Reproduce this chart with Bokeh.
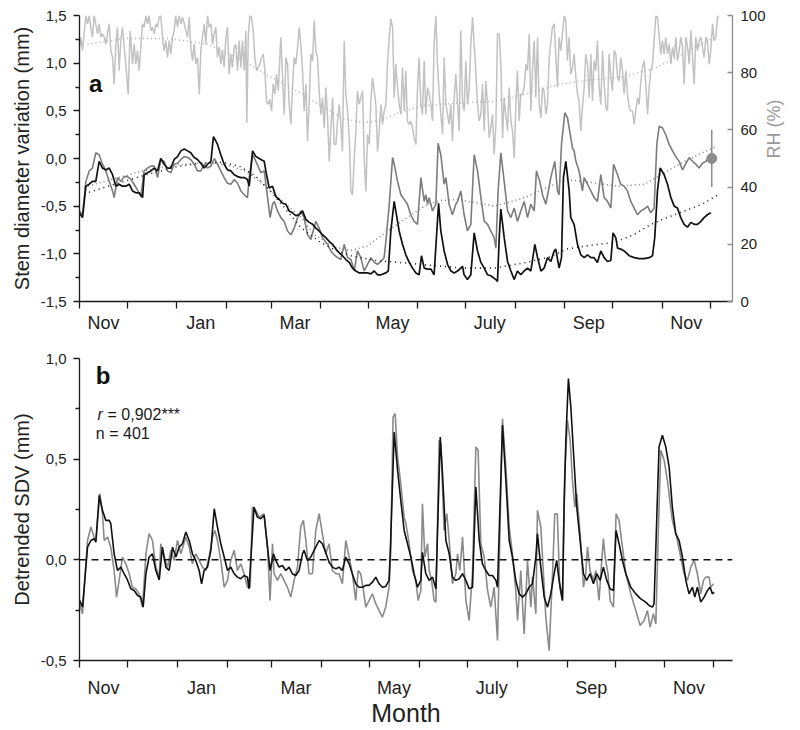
import math
from bokeh.plotting import figure
from bokeh.models import Range1d, LinearAxis, FixedTicker, Span, Label, CustomJSTickFormatter
from bokeh.layouts import column
from bokeh.embed import file_html
from bokeh.resources import INLINE

FONT = "Liberation Sans"
INK = "#1a1a1a"

# ---------------- calendar (days counted from 1 November) ----------------
month_starts = [0, 30, 61, 92, 120, 151, 181, 212, 242, 273, 304, 334, 365, 395]
label_days = [15, 76, 135, 196, 257, 319, 380]
label_names = ["Nov", "Jan", "Mar", "May", "July", "Sep", "Nov"]

sdv_ticks = [-1.5, -1.0, -0.5, 0.0, 0.5, 1.0, 1.5]
sdv_minor = [-1.25, -0.75, -0.25, 0.25, 0.75, 1.25]
rh_ticks = [0, 20, 40, 60, 80, 100]
det_ticks = [-0.5, 0.0, 0.5, 1.0]
det_minor = [-0.25, 0.25, 0.75]

# ---------------- panel a : stem diameter variation (black) ----------------
sdv_day = [0, 1.9, 4.0, 6.1, 8.1, 10.2, 12.3, 14.4, 16.5, 18.6,
           20.7, 22.8, 24.8, 26.9, 29.0, 31.1, 33.2, 35.3, 37.4, 39.5,
           40.5, 42.6, 44.7, 46.8, 48.9, 50.9, 53.0, 55.1, 57.2, 59.3,
           61.4, 63.5, 65.6, 67.7, 69.7, 71.8, 73.9, 76.0, 78.1, 80.2,
           82.3, 83.9, 86.4, 88.5, 90.6, 92.7, 94.8, 96.9, 99.0, 101.1,
           103.2, 105.2, 106.3, 108.4, 110.5, 113.6, 115.7, 116.7, 118.8, 120.9,
           123.0, 125.1, 127.2, 129.3, 131.3, 133.4, 135.5, 137.6, 139.7, 141.8,
           143.9, 146.0, 148.0, 150.1, 152.2, 154.3, 156.4, 158.5, 160.6, 162.7,
           164.7, 166.8, 168.9, 171.0, 173.1, 175.2, 178.3, 180.4, 182.5, 184.6,
           186.7, 188.8, 191.9, 193.4, 195.0, 197.1, 198.1, 200.2, 202.3, 204.4,
           206.5, 208.6, 210.7, 212.7, 214.2, 215.9, 218.0, 220.1, 222.1, 224.9,
           226.3, 228.4, 230.5, 232.6, 234.7, 236.8, 238.8, 239.9, 240.9, 243.0,
           245.1, 247.2, 249.3, 251.4, 253.5, 255.6, 257.6, 260.8, 261.8, 262.9,
           263.9, 266.0, 268.1, 270.2, 272.3, 274.3, 276.4, 278.5, 280.6, 282.7,
           285.2, 286.9, 289.0, 291.0, 293.1, 295.2, 297.3, 298.3, 300.4, 301.9,
           303.1, 304.6, 306.7, 307.7, 309.8, 311.9, 314.0, 316.1, 318.2, 320.3,
           322.3, 324.4, 326.5, 328.6, 330.7, 332.8, 334.2, 335.9, 337.0, 339.0,
           341.1, 344.3, 347.4, 350.5, 353.7, 356.8, 358.9, 360.3, 362.0, 363.7,
           366.2, 368.3, 370.4, 372.5, 374.5, 376.6, 378.7, 380.8, 382.9, 385.0,
           387.1, 389.2, 391.2, 393.3, 395.4]
sdv = [-0.57, -0.62, -0.29, -0.27, -0.24, -0.24, -0.03, -0.10, -0.12, -0.10,
       -0.17, -0.29, -0.27, -0.29, -0.29, -0.27, -0.34, -0.36, -0.36, -0.41,
       -0.17, -0.15, -0.13, -0.10, -0.13, 0.0, -0.06, -0.10, -0.10, -0.01,
       0.02, 0.08, 0.10, 0.08, 0.06, 0.01, -0.01, -0.05, -0.10, -0.06,
       -0.03, 0.23, 0.15, 0.04, -0.06, -0.12, -0.13, -0.17, -0.19, -0.20,
       -0.20, -0.22, -0.29, 0.08, 0.02, -0.01, -0.03, -0.13, -0.31, -0.29,
       -0.40, -0.43, -0.47, -0.48, -0.55, -0.57, -0.60, -0.59, -0.55, -0.64,
       -0.67, -0.69, -0.73, -0.76, -0.80, -0.83, -0.87, -0.90, -0.95, -0.99,
       -1.02, -1.06, -1.09, -1.15, -1.18, -1.20, -1.20, -1.20, -1.21, -1.18,
       -1.22, -1.22, -1.20, -1.18, -0.76, -0.45, -0.55, -0.76, -0.90, -1.01,
       -1.09, -1.15, -1.20, -1.22, -1.02, -1.15, -1.16, -1.16, -1.22, -0.47,
       -0.76, -0.97, -1.11, -1.18, -1.20, -1.18, -1.15, -1.13, -1.22, -1.27,
       -1.22, -0.78, -0.97, -1.09, -1.15, -1.22, -1.23, -1.27, -1.29, -0.83,
       -0.53, -0.83, -1.08, -1.18, -1.27, -1.18, -1.22, -1.18, -1.15, -1.18,
       -0.90, -1.04, -1.18, -1.15, -1.04, -1.08, -0.97, -0.95, -1.15, -1.04,
       -0.20, -0.03, -0.34, -0.62, -0.69, -0.90, -1.01, -1.04, -1.01, -1.04,
       -1.04, -1.09, -0.97, -1.04, -1.08, -1.07, -0.78, -0.83, -0.94, -0.95,
       -0.97, -1.02, -1.04, -1.05, -1.05, -1.04, -1.02, -0.83, -0.34, -0.10,
       -0.17, -0.27, -0.41, -0.50, -0.52, -0.62, -0.69, -0.72, -0.67, -0.69,
       -0.69, -0.66, -0.62, -0.59, -0.57]

# ---------------- panel a : grey series ----------------
grey_day = [0, 1.9, 4.0, 6.1, 8.1, 10.2, 12.3, 14.4, 16.5, 18.6,
            20.7, 21.7, 23.8, 25.9, 28.0, 30.1, 32.2, 34.2, 36.3, 38.4,
            40.5, 42.6, 44.7, 46.8, 48.9, 50.9, 53.0, 55.1, 57.2, 59.3,
            61.4, 63.5, 65.6, 67.7, 69.7, 71.8, 73.9, 76.0, 78.1, 80.2,
            82.3, 84.4, 86.4, 88.5, 90.6, 92.7, 94.8, 96.9, 99.0, 101.1,
            103.2, 105.2, 106.3, 108.4, 110.5, 113.6, 115.7, 117.8, 119.4, 120.9,
            122.0, 124.0, 126.1, 128.2, 130.3, 132.4, 134.5, 136.6, 138.6, 140.7,
            142.8, 144.9, 148.0, 150.1, 152.2, 154.3, 155.4, 157.4, 159.5, 161.6,
            163.7, 165.8, 167.9, 170.0, 172.1, 174.1, 176.2, 178.3, 180.4, 182.5,
            184.6, 186.7, 188.8, 190.8, 191.9, 194.0, 196.1, 197.1, 199.2, 201.3,
            203.4, 205.4, 207.5, 209.6, 211.7, 213.8, 215.9, 216.9, 218.0, 219.0,
            221.1, 223.2, 224.6, 226.3, 228.4, 229.5, 231.5, 233.6, 235.7, 236.8,
            238.8, 240.9, 243.0, 245.1, 247.2, 249.3, 251.4, 253.5, 255.6, 257.6,
            259.7, 260.8, 262.2, 263.9, 266.0, 268.1, 270.2, 272.3, 274.3, 276.4,
            278.5, 280.6, 282.7, 284.8, 286.2, 288.3, 290.0, 292.1, 295.2, 296.2,
            297.7, 299.4, 300.4, 301.9, 304.0, 305.6, 307.7, 308.8, 309.8, 310.9,
            312.9, 315.0, 316.1, 318.2, 320.3, 322.3, 324.4, 326.5, 328.6, 330.7,
            332.8, 334.5, 337.0, 339.0, 341.1, 343.2, 345.3, 347.4, 349.5, 351.6,
            353.7, 355.8, 357.8, 359.9, 361.6, 363.1, 365.2, 367.2, 369.3, 371.4,
            373.5, 375.6, 377.7, 379.8, 381.9, 383.9, 386.0, 388.1, 390.2, 392.3,
            394.4, 395.4]
grey_sdv = [-0.55, -0.59, -0.24, -0.13, -0.10, 0.06, 0.04, -0.06, -0.13, -0.24,
            -0.34, -0.41, -0.20, -0.24, -0.19, -0.19, -0.22, -0.27, -0.33, -0.40,
            -0.13, -0.10, -0.08, -0.08, -0.20, -0.01, -0.03, -0.13, -0.15, -0.06,
            -0.05, -0.01, 0.02, 0.01, -0.01, -0.06, -0.13, -0.13, -0.06, -0.10,
            -0.08, 0.0, -0.06, -0.13, -0.20, -0.26, -0.27, -0.22, -0.26, -0.34,
            -0.38, -0.41, -0.20, 0.04, -0.03, -0.15, -0.13, -0.41, -0.62, -0.48,
            -0.45, -0.55, -0.62, -0.66, -0.76, -0.80, -0.73, -0.62, -0.55, -0.62,
            -0.80, -0.85, -0.66, -0.73, -0.83, -0.88, -0.90, -0.97, -1.01, -1.04,
            -1.06, -0.90, -1.04, -1.06, -1.18, -0.97, -1.04, -1.18, -1.11, -1.04,
            -1.09, -1.11, -1.08, -1.04, -0.87, -0.48, 0.01, -0.06, -0.24, -0.38,
            -0.43, -0.48, -0.59, -0.66, -0.69, -0.20, -0.45, -0.38, -0.48, -0.41,
            -0.55, -0.48, 0.16, 0.04, -0.27, -0.20, -0.48, -0.59, -0.48, -0.45,
            -0.34, -0.59, -0.76, -0.69, 0.04, -0.13, -0.41, -0.66, -0.69, -0.76,
            -0.83, -0.94, -0.34, 0.06, -0.24, -0.55, -0.62, -0.52, -0.66, -0.55,
            -0.45, -0.62, -0.48, -0.55, -0.13, -0.24, -0.38, -0.48, -0.20, -0.13,
            -0.03, -0.34, -0.38, 0.15, 0.48, 0.43, 0.22, 0.11, 0.08, -0.03,
            -0.13, -0.34, -0.20, -0.27, -0.34, -0.41, -0.45, -0.17, -0.41, -0.45,
            -0.52, -0.06, -0.17, -0.27, -0.29, -0.34, -0.45, -0.52, -0.59, -0.55,
            -0.53, -0.50, -0.57, -0.52, 0.15, 0.34, 0.32, 0.25, 0.15, 0.08,
            0.02, -0.03, -0.12, -0.05, 0.01, -0.03, -0.06, -0.10, -0.05, -0.03,
            0.01, -0.01]

# ---------------- panel a : trends (dotted) ----------------
black_trend_day = [3, 20, 40, 60, 75, 90, 100, 110, 120, 130, 139, 150, 160, 170, 185,
                   200, 220, 240, 260, 280, 295, 305, 320, 335, 347, 358, 368, 379, 390, 400]
black_trend = [-0.37, -0.28, -0.18, -0.09, -0.05, -0.04, -0.08, -0.18, -0.35, -0.55, -0.73,
               -0.87, -0.96, -1.02, -1.07, -1.09, -1.12, -1.15, -1.15, -1.09, -1.03, -0.95,
               -0.91, -0.88, -0.80, -0.69, -0.62, -0.55, -0.48, -0.38]
grey_trend_day = [3, 20, 40, 60, 80, 95, 105, 115, 125, 139, 147, 160, 170, 180, 193, 207,
                  216, 226, 237, 250, 260, 279, 295, 304, 320, 337, 354, 364, 379, 390, 398]
grey_trend = [-0.30, -0.22, -0.13, -0.07, -0.04, -0.08, -0.14, -0.27, -0.42, -0.62, -0.80,
              -0.93, -0.965, -0.92, -0.76, -0.60, -0.50, -0.44, -0.43, -0.47, -0.50, -0.41,
              -0.29, -0.22, -0.25, -0.29, -0.27, -0.17, -0.03, 0.06, 0.12]
rh_trend_day = [5, 30, 55, 80, 100, 115, 135, 150, 165, 178, 190, 200, 215, 240, 260, 280,
                300, 320, 340, 360, 380, 396]
rh_trend = [90, 92, 92, 90, 85, 80, 74, 69, 64, 62.5, 63.5, 66, 68.5, 69.5, 70, 72.5,
            76, 77.5, 78.5, 81.5, 87, 92]

# ---------------- panel a : relative humidity (right axis) ----------------
rh_day_1 = [0.0, 0.8, 1.9, 2.9, 4.0, 5.0, 6.1, 7.1, 8.1, 9.2,
            10.2, 11.3, 12.3, 13.4, 14.4, 15.5, 16.5, 17.5, 18.6, 19.6,
            20.7, 21.7, 22.8, 23.8, 24.8, 25.9, 26.9, 28.0, 29.0, 30.5,
            31.7, 33.2, 34.2, 35.3, 36.3, 37.4, 38.4, 39.5, 40.5, 41.6,
            42.6, 43.6, 44.7, 45.7, 46.8, 47.8, 48.9, 49.9, 50.9, 52.0,
            53.0, 54.1, 55.1, 56.2, 57.2, 58.3, 59.3, 60.3, 61.4, 62.4,
            63.5, 64.5, 65.6, 66.6, 67.7, 68.7, 69.7, 70.8, 71.8, 72.9,
            73.9, 75.0, 76.0, 77.0, 78.1, 79.1, 80.2, 81.2, 82.3, 83.3,
            84.4, 85.4, 86.4, 87.5, 88.5, 89.6, 90.6, 91.7, 92.7, 93.7,
            94.8, 95.8, 96.9]
rh_1 = [88.9, 92.4, 87.7, 93.6, 100, 97.1, 100, 95.9, 92.4, 100,
        97.1, 93.6, 97.1, 92.4, 93.6, 92.4, 90.0, 93.6, 97.1, 87.7,
        85.3, 76.0, 90.0, 95.9, 80.7, 91.2, 95.9, 88.9, 83.0, 72.5,
        94.7, 83.0, 90.0, 83.0, 87.7, 80.7, 88.9, 97.1, 95.9, 100,
        97.1, 100, 94.7, 95.9, 93.6, 97.1, 95.9, 99.4, 100, 92.4,
        87.7, 91.2, 85.3, 91.2, 86.5, 92.4, 94.7, 100, 95.9, 100,
        97.1, 99.4, 97.1, 94.7, 92.4, 99.4, 88.9, 84.2, 90.0, 83.0,
        85.3, 72.5, 87.7, 92.4, 97.1, 90.0, 100, 95.9, 97.1, 90.0,
        93.6, 95.9, 85.3, 88.9, 83.0, 87.7, 81.8, 92.4, 95.9, 79.5,
        86.5, 81.8, 88.9]
rh_day_2 = [97.9, 99.0, 100.0, 101.1, 102.1, 103.2, 104.2, 104.8, 105.7, 106.7,
            107.7, 108.8, 109.8, 110.9, 111.9, 113.0, 114.0, 115.1, 116.1, 117.1,
            118.2, 119.2, 120.3, 121.3, 122.4, 123.4, 124.5, 125.5, 126.1, 127.2,
            128.2, 129.3, 130.3, 131.3, 132.4, 133.4, 134.5, 135.5, 136.6, 137.6,
            138.6, 139.7, 140.7, 141.8, 142.8, 143.9, 144.9, 146.0, 147.0, 148.0,
            149.1, 150.1, 151.2, 152.2, 153.3, 154.3, 155.4, 156.4, 157.4, 158.5,
            159.5, 160.6, 161.6, 162.7, 163.7, 164.7, 165.8, 166.8, 167.9, 169.0,
            170.0, 171.0, 172.1, 173.1, 174.1, 175.2, 176.2, 177.3, 178.3, 179.4,
            180.4, 181.5, 182.5, 183.5, 184.6, 185.6, 186.7, 187.7, 188.8, 189.8,
            190.8, 191.9, 192.9, 194.0, 195.0, 196.1]
rh_2 = [90.0, 80.7, 91.2, 81.8, 91.2, 80.7, 94.7, 62.5, 92.4, 100,
        99.4, 94.7, 85.3, 80.7, 81.8, 83.0, 85.3, 86.5, 80.7, 70.1,
        68.9, 70.7, 66.6, 76.0, 72.5, 79.5, 73.6, 85.3, 92.4, 78.3,
        65.4, 85.3, 83.0, 68.9, 61.9, 74.8, 85.3, 83.0, 88.9, 95.9,
        90.0, 80.7, 66.6, 76.0, 56.0, 70.1, 86.5, 84.2, 98.2, 87.7,
        85.3, 73.6, 65.4, 71.3, 60.7, 74.8, 64.2, 49.0, 59.6, 71.3,
        54.9, 54.9, 63.1, 68.9, 61.9, 52.5, 91.2, 72.5, 66.6, 57.2,
        38.5, 37.3, 50.2, 59.6, 73.6, 68.9, 71.3, 73.6, 50.2, 38.5,
        58.4, 54.9, 70.1, 78.3, 73.6, 68.9, 52.5, 59.6, 68.9, 61.9,
        66.6, 68.9, 83.0, 92.4, 98.8, 95.9]
rh_day_3 = [197.1, 198.1, 199.2, 200.2, 201.3, 202.3, 203.4, 204.4, 205.4, 206.5,
            207.5, 208.6, 209.6, 210.7, 211.7, 212.7, 213.8, 214.8, 215.9, 216.9,
            218.0, 219.0, 220.1, 221.1, 222.1, 223.2, 224.2, 225.3, 226.3, 227.4,
            228.4, 229.5, 230.5, 231.5, 232.6, 233.6, 234.7, 235.7, 236.8, 237.8,
            238.8, 239.9, 240.9, 242.0, 243.0, 244.1, 245.1, 246.2, 247.2, 248.2,
            249.3, 250.3, 251.4, 252.4, 253.5, 254.5, 255.6, 256.6, 257.6, 258.7,
            259.7, 260.8, 261.8, 262.9, 263.9, 265.0, 266.0, 267.0, 268.1, 269.1,
            270.2, 271.2, 272.3, 273.3, 274.3, 275.4, 276.4, 277.5, 278.5, 279.6,
            280.6, 281.7, 282.7, 283.7, 284.8, 285.8, 286.9, 287.9, 289.0, 290.0,
            291.0, 292.1, 293.1, 294.2]
rh_3 = [71.3, 83.0, 74.8, 68.9, 65.4, 81.8, 66.6, 80.7, 63.1, 61.9,
        63.1, 60.7, 57.2, 54.9, 74.8, 85.3, 68.9, 65.4, 84.2, 65.4,
        74.8, 72.5, 68.9, 63.1, 90.0, 100, 83.0, 72.5, 65.4, 58.4,
        85.3, 68.9, 65.4, 61.9, 68.9, 56.0, 71.3, 79.5, 68.9, 59.6,
        94.7, 70.1, 66.6, 84.2, 68.9, 74.8, 90.0, 99.4, 90.0, 80.7,
        68.9, 63.1, 65.4, 76.0, 59.6, 77.1, 68.9, 57.2, 60.7, 65.4,
        51.3, 61.9, 93.6, 93.6, 83.0, 57.2, 71.3, 65.4, 59.6, 74.8,
        63.1, 59.6, 50.2, 68.9, 80.7, 63.1, 72.5, 72.5, 74.8, 83.0,
        80.7, 93.6, 66.6, 80.7, 91.2, 71.3, 92.4, 68.9, 64.2, 74.8,
        73.6, 65.4, 68.9, 85.3]
rh_day_4 = [296.2, 297.3, 298.3, 299.4, 300.4, 301.5, 302.5, 303.6, 304.6, 305.6,
            306.7, 307.7, 308.8, 309.8, 310.9, 311.9, 312.9, 314.0, 315.0, 316.1,
            317.1, 318.2, 319.2, 320.3, 321.3, 322.3, 323.4, 324.4, 325.5, 326.5,
            327.6, 328.6, 329.7, 330.7, 331.7, 332.8, 333.8, 334.9, 335.9, 337.0,
            338.0, 339.0, 340.1, 341.1, 342.2, 343.2, 344.3, 345.3, 346.4, 347.4,
            348.4, 349.5, 350.5, 351.6, 352.6, 353.7, 354.7, 355.8, 356.8, 357.8,
            358.9, 359.9, 361.0, 362.0, 363.1, 364.1, 365.1, 366.2, 367.2, 368.3,
            369.3, 370.4, 371.4, 372.5, 373.5, 374.5, 375.6, 376.6, 377.7, 378.7,
            379.8, 380.8, 381.9, 382.9, 383.9, 385.0, 386.0, 387.1, 388.1, 389.2,
            390.2, 391.2, 392.3, 393.3, 394.4, 395.4, 396.5, 397.5, 398.6, 399.6,
            400.6]
rh_4 = [95.9, 97.1, 86.5, 74.8, 92.4, 87.7, 93.6, 100, 98.2, 84.2,
        92.4, 79.5, 81.8, 86.5, 78.3, 72.5, 70.1, 59.6, 67.8, 74.8,
        86.5, 83.0, 71.3, 86.5, 70.1, 84.2, 80.7, 91.2, 74.8, 68.9,
        87.7, 76.0, 67.8, 66.6, 86.5, 78.3, 73.6, 87.7, 86.5, 78.3,
        77.1, 85.3, 80.7, 72.5, 80.7, 72.5, 67.8, 66.6, 66.6, 61.9,
        66.6, 71.3, 68.9, 77.1, 81.8, 84.2, 76.0, 65.4, 74.8, 80.7,
        83.0, 91.2, 100, 99.4, 92.4, 86.5, 91.2, 86.5, 92.4, 86.5,
        90.0, 83.0, 88.9, 85.3, 92.4, 84.2, 87.7, 92.4, 88.9, 76.0,
        92.4, 88.9, 83.0, 94.7, 86.5, 76.0, 92.4, 87.7, 91.2, 92.4,
        88.9, 85.3, 92.4, 91.2, 83.0, 87.7, 97.1, 91.2, 92.4, 99.4,
        100]

rh_err_day = [396]
rh_err_mean = [50]
rh_err_sd = [10]

# ---------------- panel b : detrended SDV, pairs (day, value) ----------------
det_black = [
    (0, -0.20), (1.9, -0.235), (5.0, 0.063), (7.1, 0.096), (9.1, 0.105), (10.2, 0.088),
    (12.3, 0.32), (14.3, 0.246), (16.4, 0.196), (18.5, 0.196), (19.5, 0.18), (21.6, 0.03),
    (23.7, -0.053), (25.8, -0.036), (27.8, -0.069), (29.9, -0.10), (32.0, -0.144),
    (34.1, -0.152), (36.2, -0.177), (38.2, -0.185), (39.7, -0.235), (41.4, -0.069),
    (43.4, 0.014), (45.5, 0.03), (47.6, -0.053), (49.7, -0.10), (51.7, 0.063),
    (53.8, -0.036), (55.9, -0.053), (58.0, 0.063), (60.1, 0.014), (62.1, 0.063),
    (64.2, 0.08), (66.3, 0.138), (68.4, 0.096), (70.4, 0.03), (72.5, -0.003),
    (74.6, -0.053), (76.1, -0.119), (77.7, -0.053), (79.8, -0.036), (81.9, 0.047),
    (84.0, 0.254), (86.0, 0.163), (88.1, 0.08), (90.2, 0.014), (92.3, -0.053),
    (94.3, -0.036), (96.4, -0.069), (98.5, -0.086), (100.5, -0.094), (102.6, -0.078),
    (104.7, -0.086), (105.7, -0.144), (108.8, 0.262), (110.9, 0.212), (113.0, 0.204),
    (115.1, 0.221), (117.2, 0.063), (118.8, -0.053), (120.9, 0.030), (122.4, -0.003),
    (124.4, -0.036), (126.5, -0.028), (128.6, -0.053), (130.7, -0.036), (132.7, -0.069),
    (134.8, -0.078), (136.9, -0.053), (139.0, 0.030), (140.0, 0.047), (142.1, -0.003),
    (144.2, 0.014), (147.3, 0.063), (149.4, 0.096), (151.4, 0.080), (153.5, 0.037),
    (155.6, -0.012), (157.7, -0.036), (159.8, -0.045), (161.8, -0.036), (163.9, -0.053),
    (166.0, 0.014), (168.1, -0.020), (170.1, -0.069), (172.2, -0.119), (174.3, -0.136),
    (176.4, -0.136), (178.5, -0.127), (180.5, -0.127), (182.6, -0.111), (184.7, -0.086),
    (186.8, -0.119), (188.8, -0.136), (190.9, -0.132), (193.0, -0.102), (194.0, 0.096),
    (196.2, 0.635), (198.3, 0.445), (200.3, 0.295), (202.4, 0.146), (204.5, 0.080),
    (206.6, 0.014), (208.6, -0.069), (210.7, -0.136), (212.8, -0.102), (213.8, 0.037),
    (215.9, -0.069), (218.0, -0.102), (220.1, -0.086), (222.2, -0.144), (224.9, 0.610),
    (226.3, 0.428), (228.4, 0.096), (230.5, 0.030), (232.5, -0.086), (234.6, -0.102),
    (236.7, -0.094), (238.8, -0.069), (240.9, -0.102), (242.9, -0.144), (245.0, -0.136),
    (247.1, 0.362), (249.2, 0.096), (251.2, -0.020), (253.3, -0.053), (255.4, -0.078),
    (257.5, -0.078), (259.6, -0.102), (260.6, -0.136), (263.7, 0.670), (265.8, 0.395),
    (267.9, 0.096), (269.9, 0.014), (272.0, -0.102), (274.1, -0.169), (276.2, -0.185),
    (278.3, -0.169), (280.3, -0.136), (282.4, -0.119), (284.5, 0.014), (285.5, 0.130),
    (287.6, -0.036), (289.7, -0.185), (291.8, -0.235), (293.8, -0.169), (295.9, -0.069),
    (297.5, -0.003), (299.0, -0.102), (301.1, -0.202), (302.1, 0.262), (303.2, 0.594),
    (304.8, 0.900), (306.3, 0.760), (307.9, 0.544), (310.0, 0.262), (312.1, 0.096),
    (314.2, -0.069), (316.2, -0.102), (318.3, -0.069), (320.4, -0.119), (322.5, -0.069),
    (324.6, -0.102), (326.6, -0.036), (328.7, -0.102), (330.8, -0.144), (332.9, -0.152),
    (334.5, 0.146), (336.4, 0.080), (338.5, -0.003), (340.6, -0.069), (343.7, -0.136),
    (346.8, -0.169), (349.9, -0.194), (353.0, -0.210), (355.1, -0.227), (357.2, -0.235),
    (358.2, -0.218), (361.3, 0.561), (363.4, 0.619), (365.5, 0.561), (367.6, 0.461),
    (369.6, 0.262), (371.7, 0.130), (373.8, 0.096), (375.9, 0.014), (378.0, -0.102),
    (380.0, -0.169), (382.1, -0.136), (383.6, -0.185), (385.2, -0.136), (387.3, -0.210),
    (389.4, -0.185), (391.5, -0.152), (393.1, -0.136), (394.6, -0.169), (395.6, -0.160)]

det_grey = [
    (0, -0.218), (1.9, -0.268), (5.0, 0.096), (7.1, 0.163), (9.1, 0.113), (10.2, 0.096),
    (12.7, 0.329), (14.3, 0.229), (15.4, 0.096), (17.5, 0.113), (19.5, 0.063),
    (21.6, -0.053), (23.1, -0.185), (24.7, -0.102), (26.8, 0.014), (28.9, -0.020),
    (31.0, -0.069), (33.0, -0.136), (35.1, -0.144), (37.2, -0.169), (39.3, -0.235),
    (41.4, 0.030), (43.4, 0.130), (45.5, 0.096), (47.6, -0.036), (49.7, -0.086),
    (50.7, 0.080), (52.8, 0.014), (54.9, -0.036), (56.9, 0.047), (59.0, -0.003),
    (61.1, 0.096), (63.2, 0.030), (66.3, 0.113), (68.4, 0.063), (70.4, -0.020),
    (72.5, 0.030), (74.6, -0.003), (76.7, -0.036), (78.8, -0.053), (80.8, 0.014),
    (82.9, 0.113), (84.4, 0.146), (86.0, 0.096), (88.1, -0.003), (90.2, -0.136),
    (92.3, -0.102), (94.3, -0.003), (96.4, 0.047), (98.5, -0.053), (100.5, -0.020),
    (102.6, -0.069), (104.7, -0.136), (106.4, -0.136), (107.8, 0.262), (109.9, 0.246),
    (112.0, 0.212), (115.1, 0.229), (117.2, 0.063), (118.8, -0.202), (120.3, 0.080),
    (121.3, -0.069), (123.4, -0.102), (125.5, -0.069), (127.5, -0.102), (129.6, -0.136),
    (131.7, -0.185), (133.8, -0.102), (135.9, -0.036), (137.9, 0.163), (139.6, 0.196),
    (141.1, 0.096), (143.1, -0.069), (145.2, -0.069), (147.3, 0.146), (149.4, 0.229),
    (151.4, 0.130), (153.5, 0.030), (155.6, 0.080), (157.7, -0.053), (159.8, -0.069),
    (161.8, -0.069), (163.9, -0.119), (166.0, 0.096), (168.1, 0.014), (170.1, -0.069),
    (172.2, -0.202), (173.7, -0.053), (175.3, -0.069), (177.0, -0.152), (178.5, -0.235),
    (180.5, -0.202), (182.6, -0.169), (184.7, -0.218), (186.8, -0.252), (188.8, -0.285),
    (190.9, -0.235), (193.0, -0.136), (194.0, 0.030), (195.5, 0.710), (196.8, 0.726),
    (198.3, 0.511), (200.3, 0.378), (202.4, 0.212), (203.5, 0.179), (205.5, 0.080),
    (207.6, -0.053), (209.7, -0.102), (211.1, -0.202), (212.8, -0.152), (213.8, 0.279),
    (215.3, 0.014), (217.0, 0.080), (218.0, -0.053), (219.5, -0.102), (221.1, -0.202),
    (222.2, -0.210), (224.2, 0.594), (225.3, 0.577), (227.3, 0.146), (229.0, 0.229),
    (230.5, 0.096), (232.5, -0.119), (234.6, -0.069), (235.7, 0.030), (237.1, -0.053),
    (238.8, 0.113), (240.9, -0.202), (242.9, -0.301), (245.0, -0.069), (247.1, 0.561),
    (248.5, 0.544), (250.2, 0.080), (252.3, 0.014), (254.4, -0.152), (256.4, -0.235),
    (258.5, -0.136), (260.6, -0.401), (263.7, 0.701), (265.8, 0.461), (267.9, 0.163),
    (269.9, 0.030), (272.0, -0.152), (273.1, -0.301), (275.1, -0.053), (277.2, -0.368),
    (279.3, -0.003), (281.4, -0.235), (282.4, -0.086), (284.5, -0.268), (285.5, 0.246),
    (287.6, 0.163), (289.7, -0.136), (290.7, -0.285), (292.8, -0.451), (294.9, -0.069),
    (296.3, 0.229), (297.9, 0.229), (299.4, -0.136), (301.1, -0.202), (302.5, 0.428),
    (304.2, 0.693), (305.9, 0.594), (307.3, 0.395), (308.8, 0.262), (310.0, 0.329),
    (312.1, 0.130), (314.2, -0.136), (315.6, -0.069), (316.7, 0.063), (318.3, -0.053),
    (320.4, -0.102), (321.9, -0.053), (323.9, -0.202), (325.0, -0.069), (326.6, 0.105),
    (327.7, 0.014), (329.5, -0.069), (330.8, -0.202), (332.9, -0.235), (334.5, 0.229),
    (336.4, 0.196), (338.5, 0.063), (340.6, -0.069), (343.7, -0.169), (346.8, -0.252),
    (349.5, -0.326), (352.0, -0.301), (354.1, -0.252), (355.7, -0.334), (357.8, -0.268),
    (359.3, -0.318), (360.7, 0.096), (362.4, 0.544), (364.5, 0.494), (366.5, 0.395),
    (369.6, 0.196), (372.3, 0.113), (374.8, 0.014), (376.9, -0.069), (379.0, -0.102),
    (381.1, -0.036), (383.2, -0.003), (385.2, -0.069), (387.3, -0.169), (389.0, -0.102),
    (390.4, -0.086), (392.5, -0.086), (393.5, -0.136), (395.2, -0.119)]

stats_r = "0,902***"
stats_n = "401"

# ---------------- helpers ----------------
comma_fmt = "return tick.toFixed(1).replace('.', ',');"
month_fmt = CustomJSTickFormatter(args=dict(days=label_days, names=label_names),
                                  code="const i = days.indexOf(tick); return i >= 0 ? names[i] : '';")


def base_style(ax, label_size):
    ax.axis_line_color = INK
    ax.axis_line_width = 1.3
    ax.major_tick_line_color = INK
    ax.major_tick_line_width = 1.3
    ax.minor_tick_line_color = INK
    ax.minor_tick_line_width = 1.3
    ax.major_label_text_font = FONT
    ax.major_label_text_font_size = label_size
    ax.major_label_text_color = "#222222"
    ax.axis_label_text_font = FONT
    ax.axis_label_text_font_style = "normal"
    ax.axis_label_text_color = "#222222"


def x_style(ax, standoff):
    base_style(ax, "18px")
    ax.ticker = FixedTicker(ticks=label_days, minor_ticks=month_starts)
    ax.formatter = month_fmt
    ax.major_tick_out = 0
    ax.major_tick_in = 0
    ax.minor_tick_out = 7
    ax.minor_tick_in = 0
    ax.major_label_standoff = standoff


def y_style(ax, ticks, minor, title):
    base_style(ax, "15px")
    ax.ticker = FixedTicker(ticks=ticks, minor_ticks=minor)
    ax.formatter = CustomJSTickFormatter(code=comma_fmt)
    ax.major_tick_out = 6
    ax.major_tick_in = 0
    ax.minor_tick_out = 4
    ax.minor_tick_in = 0
    ax.major_label_standoff = 7
    ax.axis_label = title
    ax.axis_label_text_font_size = "20px"
    ax.axis_label_standoff = 5


def clean(p):
    p.outline_line_color = None
    p.xgrid.visible = False
    p.ygrid.visible = False
    p.background_fill_color = "white"
    p.border_fill_color = "white"


# ---------------- panel a ----------------
p1 = figure(width=800, height=345, x_range=Range1d(0, 409.0), y_range=Range1d(-1.5, 1.5),
            output_backend="svg", toolbar_location=None,
            min_border_left=79, min_border_right=68, min_border_top=15, min_border_bottom=44)
clean(p1)
p1.extra_y_ranges = {"rh": Range1d(0, 100)}
x_style(p1.xaxis[0], 4)
y_style(p1.yaxis[0], sdv_ticks, sdv_minor, "Stem diameter variation (mm)")

rax = LinearAxis(y_range_name="rh", ticker=FixedTicker(ticks=rh_ticks))
base_style(rax, "15px")
rax.axis_line_color = "#8c8c8c"
rax.major_tick_line_color = "#8c8c8c"
rax.major_tick_in = 5
rax.major_tick_out = 0
rax.minor_tick_out = 0
rax.major_label_standoff = 8
rax.axis_label = "RH (%)"
rax.axis_label_text_font_size = "18px"
rax.axis_label_text_color = "#9a9a9a"
rax.axis_label_standoff = 5
try:
    rax.axis_label_orientation = math.pi / 2
except Exception:
    pass
p1.add_layout(rax, "right")

rh_day = rh_day_1 + rh_day_2 + rh_day_3 + rh_day_4
rh = rh_1 + rh_2 + rh_3 + rh_4
p1.line(rh_day, rh, y_range_name="rh", line_color="#c2c2c2", line_width=1.5)
p1.line(rh_trend_day, rh_trend, y_range_name="rh", line_color="#b0b0b0", line_width=1.5, line_dash="1 3")
p1.line(grey_day, grey_sdv, line_color="#7c7c7c", line_width=1.6)
p1.line(grey_trend_day, grey_trend, line_color="#7c7c7c", line_width=1.5, line_dash="1 3")
p1.line(sdv_day, sdv, line_color="#111111", line_width=1.7)
p1.line(black_trend_day, black_trend, line_color="#1a1a1a", line_width=1.6, line_dash="1 4")

err_lo = [m - s for m, s in zip(rh_err_mean, rh_err_sd)]
err_hi = [m + s for m, s in zip(rh_err_mean, rh_err_sd)]
p1.segment(x0=rh_err_day, y0=err_lo, x1=rh_err_day, y1=err_hi, y_range_name="rh",
           line_color="#8c8c8c", line_width=1.5)
p1.scatter(rh_err_day, rh_err_mean, y_range_name="rh", size=10,
           fill_color="#8c8c8c", line_color="#8c8c8c")

p1.add_layout(Label(x=6.0, y=0.784, text="a", text_font=FONT, text_font_style="bold",
                    text_font_size="24px", text_color="#111111", text_baseline="alphabetic"))

# ---------------- panel b ----------------
p2 = figure(width=800, height=385, x_range=Range1d(0, 407.1), y_range=Range1d(-0.5, 1.0),
            output_backend="svg", toolbar_location=None,
            min_border_left=79, min_border_right=68, min_border_top=13, min_border_bottom=70)
clean(p2)
x_style(p2.xaxis[0], 10)
p2.xaxis[0].axis_label = "Month"
p2.xaxis[0].axis_label_text_font_size = "25px"
p2.xaxis[0].axis_label_standoff = -2
y_style(p2.yaxis[0], det_ticks, det_minor, "Detrended SDV (mm)")

p2.add_layout(Span(location=0, dimension="width", line_color="#111111",
                   line_width=1.5, line_dash="7 5"))

gb_day, gb_val = zip(*det_grey)
bb_day, bb_val = zip(*det_black)
p2.line(list(gb_day), list(gb_val), line_color="#8a8a8a", line_width=1.6)
p2.line(list(bb_day), list(bb_val), line_color="#111111", line_width=1.6)

p2.add_layout(Label(x=10.2, y=0.917, text="b", text_font=FONT, text_font_style="bold",
                    text_font_size="24px", text_color="#111111", text_baseline="alphabetic"))
p2.add_layout(Label(x=11.2, y=0.723, text="r", text_font=FONT, text_font_style="italic",
                    text_font_size="16px", text_color=INK, text_baseline="alphabetic"))
p2.add_layout(Label(x=17.5, y=0.723, text="= " + stats_r, text_font=FONT,
                    text_font_size="16px", text_color=INK, text_baseline="alphabetic"))
p2.add_layout(Label(x=10.2, y=0.627, text="n = " + stats_n, text_font=FONT,
                    text_font_size="16px", text_color=INK, text_baseline="alphabetic"))

layout = column(p1, p2, spacing=0)
open("out.html", "w").write(file_html(layout, INLINE))
